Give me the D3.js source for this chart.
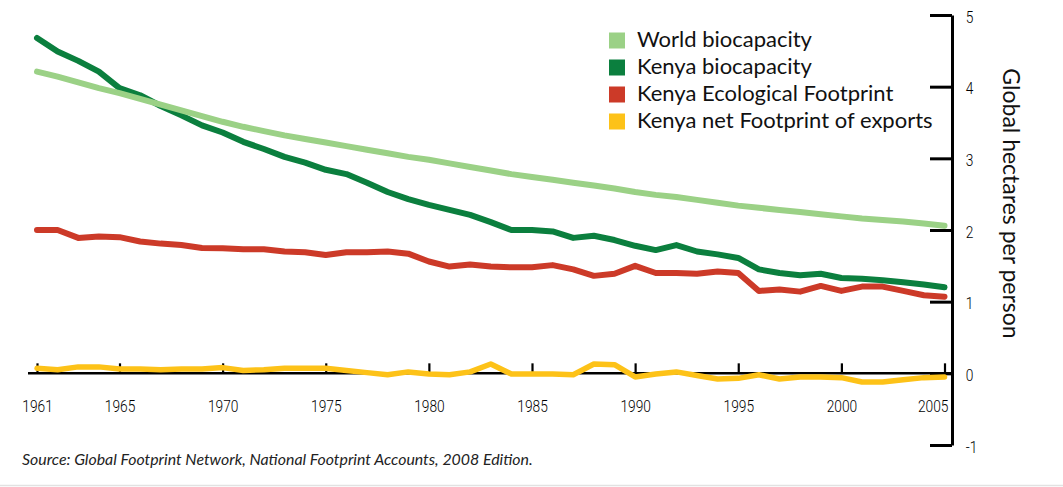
<!DOCTYPE html>
<html>
<head>
<meta charset="utf-8">
<script src="https://cdn.jsdelivr.net/npm/d3@7/dist/d3.min.js"></script>
<style>
  html, body { margin: 0; padding: 0; background: #fff; }
  svg { display: block; }
  .tick text { font-family: Roboto, "Liberation Sans", sans-serif; font-weight: 300; font-size: 16px; fill: #000; }
</style>
</head>
<body>
<svg id="chart" width="1063" height="487"></svg>
<script>
const years = d3.range(1961, 2006);
const xTickYears = [1961, 1965, 1970, 1975, 1980, 1985, 1990, 1995, 2000, 2005];
const yTickValues = [-1, 0, 1, 2, 3, 4, 5];

const worldBiocapacity = [4.21, 4.14, 4.06, 3.98, 3.91, 3.83, 3.75, 3.67, 3.59, 3.51,
  3.44, 3.38, 3.32, 3.27, 3.22, 3.17, 3.12, 3.07, 3.02, 2.98,
  2.93, 2.88, 2.83, 2.78, 2.74, 2.70, 2.66, 2.62, 2.58, 2.53,
  2.49, 2.46, 2.42, 2.38, 2.34, 2.31, 2.28, 2.25, 2.22, 2.19,
  2.16, 2.14, 2.12, 2.09, 2.06];
const kenyaBiocapacity = [4.68, 4.49, 4.36, 4.21, 3.98, 3.88, 3.73, 3.60, 3.46, 3.36,
  3.23, 3.13, 3.02, 2.94, 2.84, 2.78, 2.66, 2.53, 2.43, 2.35,
  2.28, 2.21, 2.11, 2.00, 2.00, 1.98, 1.89, 1.92, 1.86, 1.78,
  1.72, 1.79, 1.70, 1.66, 1.61, 1.45, 1.40, 1.37, 1.39, 1.33,
  1.32, 1.30, 1.27, 1.24, 1.20];
const kenyaFootprint = [2.00, 2.00, 1.89, 1.91, 1.90, 1.84, 1.81, 1.79, 1.75, 1.745,
  1.73, 1.73, 1.70, 1.69, 1.65, 1.69, 1.69, 1.70, 1.67, 1.56,
  1.49, 1.52, 1.49, 1.48, 1.48, 1.51, 1.45, 1.36, 1.39, 1.50,
  1.40, 1.40, 1.39, 1.42, 1.40, 1.15, 1.17, 1.14, 1.22, 1.15,
  1.21, 1.21, 1.15, 1.09, 1.07];
const kenyaNetExports = [0.07, 0.05, 0.09, 0.09, 0.06, 0.06, 0.05, 0.06, 0.06, 0.08,
  0.04, 0.05, 0.07, 0.07, 0.07, 0.04, 0.01, -0.02, 0.02, -0.01,
  -0.02, 0.02, 0.13, -0.01, -0.01, -0.01, -0.02, 0.13, 0.12, -0.05,
  -0.01, 0.02, -0.03, -0.08, -0.07, -0.02, -0.08, -0.05, -0.05, -0.06,
  -0.12, -0.12, -0.09, -0.06, -0.05];

const seriesNames = ["World biocapacity", "Kenya biocapacity", "Kenya Ecological Footprint", "Kenya net Footprint of exports"];
const seriesColors = ["#9bd186", "#0b7f3e", "#cc3a28", "#fdc218"];
const seriesValues = [worldBiocapacity, kenyaBiocapacity, kenyaFootprint, kenyaNetExports];
const yAxisTitle = "Global hectares per person";
const sourceText = "Source: Global Footprint Network, National Footprint Accounts, 2008 Edition.";

const svg = d3.select("#chart");
const x = d3.scaleLinear().domain([1961, 2005]).range([37, 944.5]);
const y = d3.scaleLinear().domain([-1, 5]).range([445, 15]);
const axisX = 952;

// x baseline
svg.append("line")
  .attr("x1", x.range()[0] - 9).attr("x2", axisX)
  .attr("y1", y(0)).attr("y2", y(0))
  .attr("stroke", "#000").attr("stroke-width", 2.5);

// x axis ticks + labels
const xAxis = svg.append("g").attr("transform", `translate(0,${y(0)})`)
  .call(d3.axisBottom(x).tickValues(xTickYears).tickFormat(d3.format("d"))
    .tickSizeInner(-10).tickSizeOuter(0).tickPadding(27));
xAxis.select(".domain").remove();
xAxis.selectAll(".tick line").attr("stroke", "#000").attr("stroke-width", 2.2);
xAxis.selectAll(".tick text").attr("font-family", null).attr("font-size", null)
  .attr("text-anchor", d => d === 2005 ? "end" : "middle")
  .attr("x", d => d === 2005 ? 4 : 0)
  .attr("transform", "scale(0.86,1)");

// right axis
const yAxis = svg.append("g").attr("transform", `translate(${axisX},0)`)
  .call(d3.axisRight(y).tickValues(yTickValues).tickFormat(d3.format("d"))
    .tickSizeInner(-22).tickSizeOuter(0).tickPadding(16));
yAxis.select(".domain").attr("stroke", "#000").attr("stroke-width", 3);
yAxis.selectAll(".tick line").attr("stroke", "#000").attr("stroke-width", 3);
yAxis.selectAll(".tick text").attr("font-family", null).attr("font-size", null)
  .attr("dy", "0.45em").text(d => d < 0 ? "-" + Math.abs(d) : d)
  .attr("transform", "scale(0.86,1)");

// lines
const line = d3.line().x((d, i) => x(years[i])).y(d => y(d));
const drawOrder = [2, 1, 0, 3];
drawOrder.forEach(k => {
  svg.append("path")
    .datum(seriesValues[k])
    .attr("d", line)
    .attr("fill", "none")
    .attr("stroke", seriesColors[k])
    .attr("stroke-width", k === 3 ? 5.5 : 6)
    .attr("stroke-linejoin", "round")
    .attr("stroke-linecap", "round");
});

// legend
const legend = svg.append("g").attr("transform", "translate(609,32.5)");
seriesNames.forEach((name, i) => {
  const g = legend.append("g").attr("transform", `translate(0,${i * 27})`);
  g.append("rect").attr("width", 16).attr("height", 16).attr("fill", seriesColors[i]);
  g.append("text").attr("x", 28).attr("y", 14.5)
    .attr("font-family", "Lato, 'Open Sans', sans-serif")
    .attr("font-size", 22).attr("fill", "#111").text(name);
});

// y title (rotated clockwise)
svg.append("text")
  .attr("transform", `translate(1003,${(70 + 337) / 2}) rotate(90)`)
  .attr("text-anchor", "middle")
  .attr("font-family", "Lato, 'Open Sans', sans-serif")
  .attr("font-size", 23).attr("fill", "#111")
  .text(yAxisTitle);

// source
svg.append("text")
  .attr("x", 22).attr("y", 465)
  .attr("font-family", "Lato, 'Open Sans', sans-serif")
  .attr("font-style", "italic")
  .attr("font-size", 15.9).attr("fill", "#222")
  .text(sourceText);

// bottom rule
svg.append("line").attr("x1", 0).attr("x2", 1063).attr("y1", 485.5).attr("y2", 485.5)
  .attr("stroke", "#e2e2e2").attr("stroke-width", 1.5);
</script>
</body>
</html>
